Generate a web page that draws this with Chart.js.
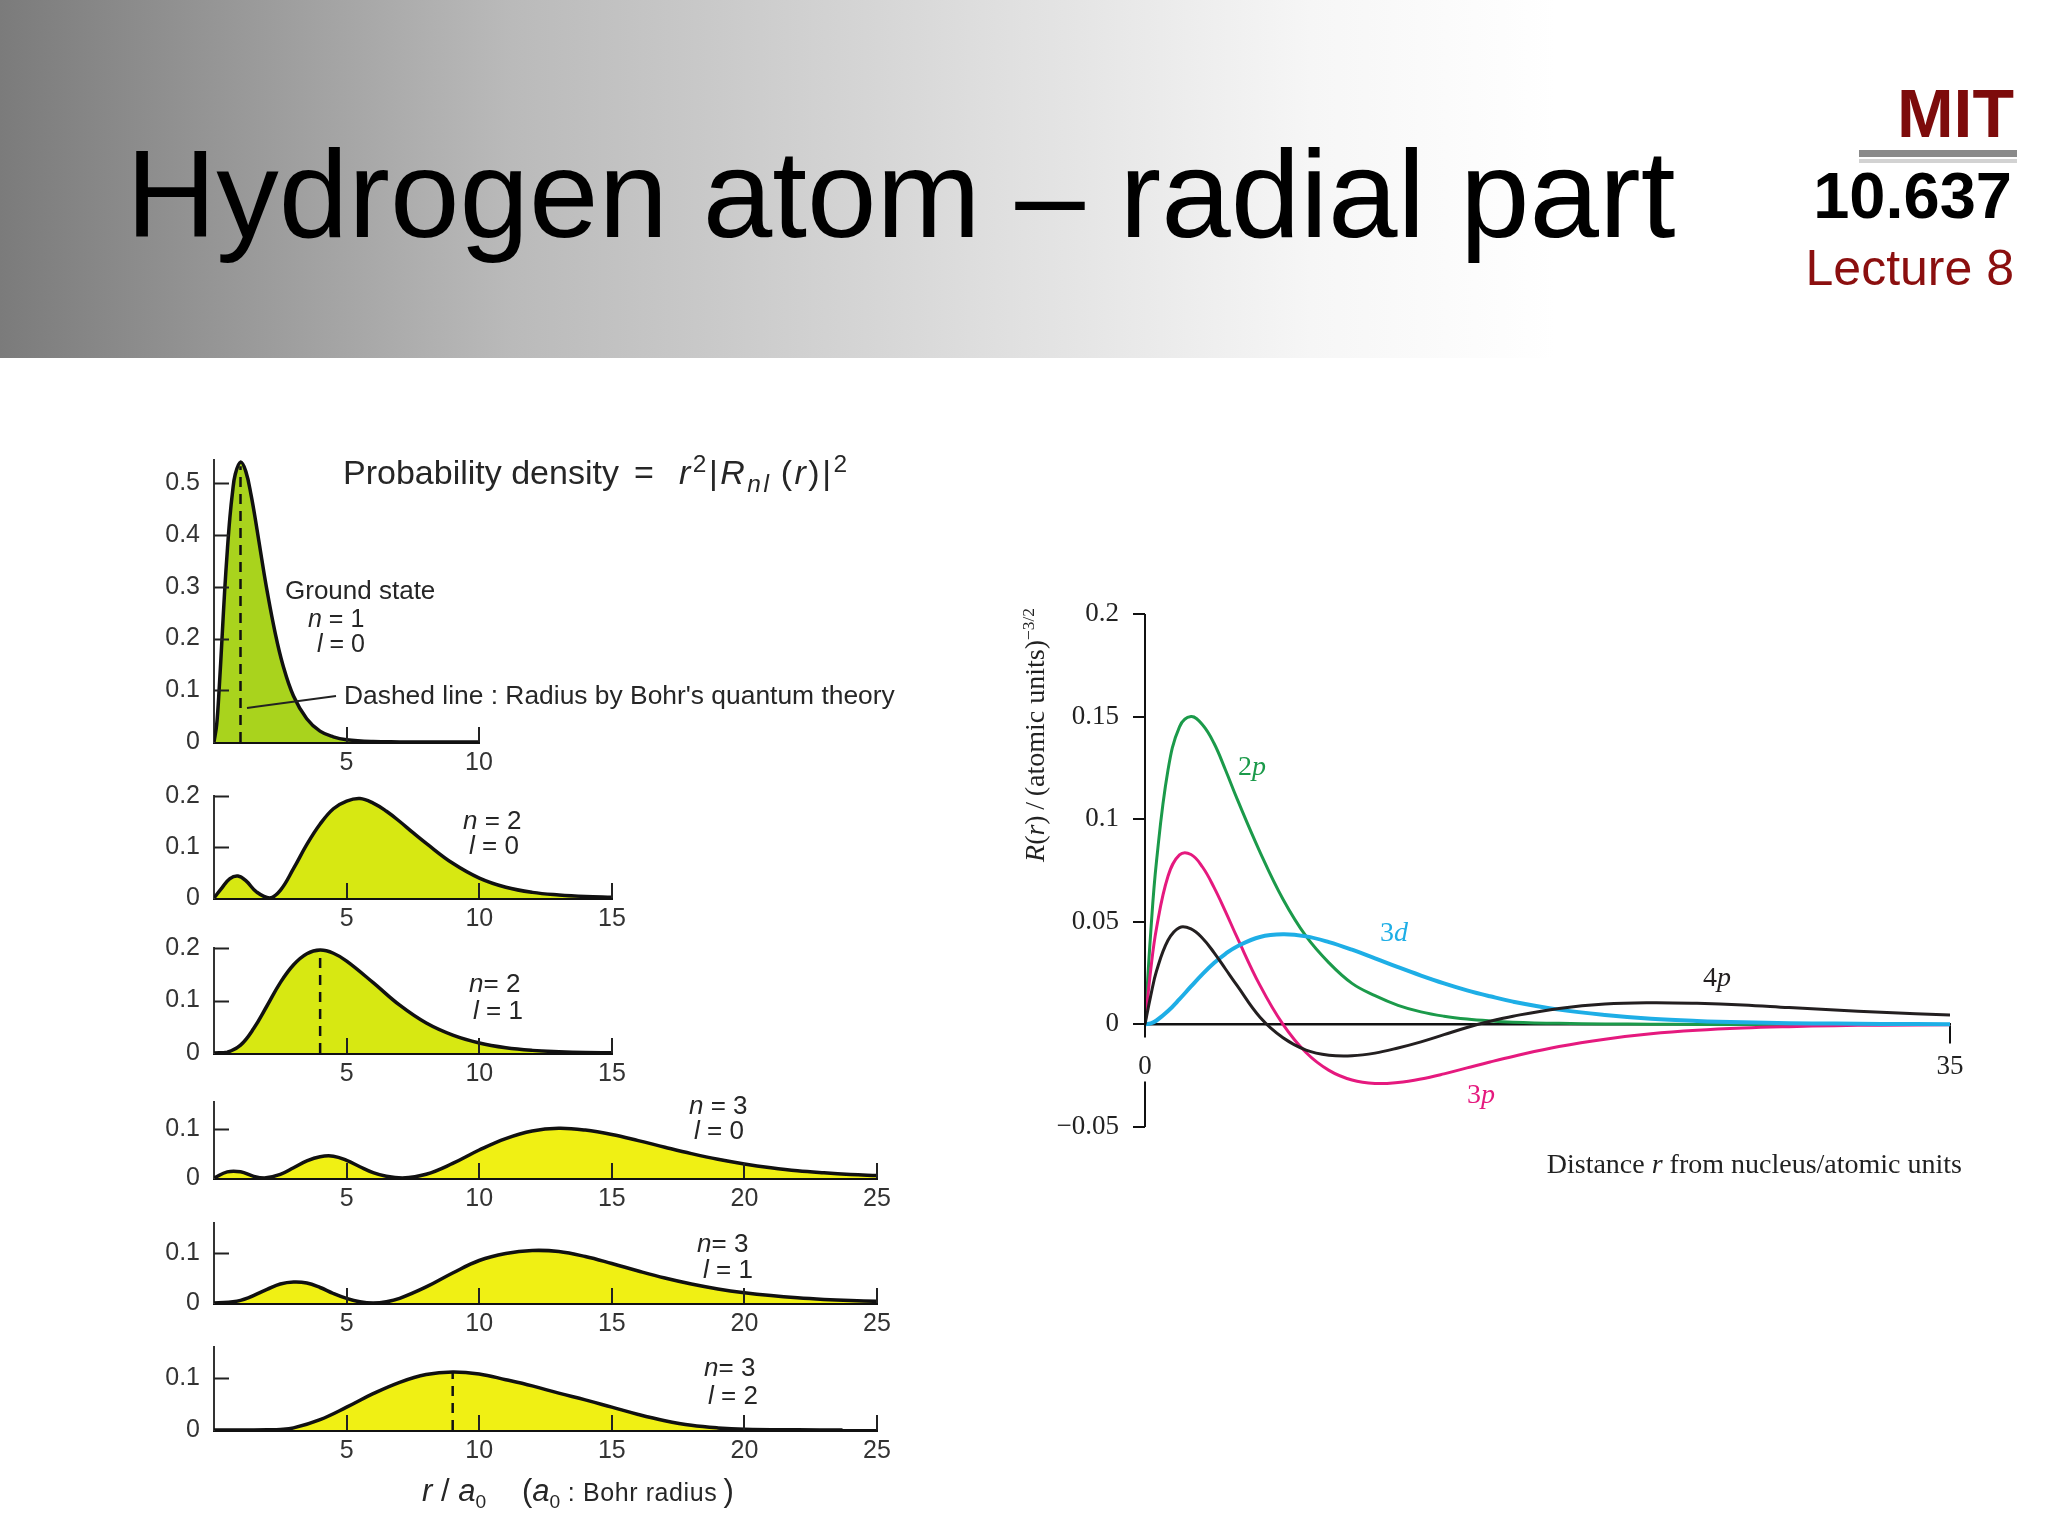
<!DOCTYPE html>
<html>
<head>
<meta charset="utf-8">
<title>Hydrogen atom – radial part</title>
<script src="https://cdn.jsdelivr.net/npm/chart.js@4.4.1/dist/chart.umd.min.js"></script>
<style>
  html, body { margin: 0; padding: 0; background: #fff; }
  #page { position: relative; width: 2048px; height: 1536px; overflow: hidden; font-family: "Liberation Sans", Arial, sans-serif; }
  #header { position: absolute; left: 0; top: 0; width: 2048px; height: 358px;
    background: linear-gradient(to right, #7b7b7b 0%, #bababa 25%, #dedede 48%, #f6f6f6 64%, #ffffff 76%); }
  .t { position: absolute; white-space: nowrap; line-height: 1; }
  .lbl { color: #262626; font-size: 26px; }
  .serif { font-family: "Liberation Serif", "Times New Roman", serif; }
  sup, sub { font-size: 0.62em; line-height: 0; }
  canvas { position: absolute; }
</style>
</head>
<body>
<div id="page">
  <div id="header"></div>
  <div class="t" style="left:126px;top:131px;font-size:125px;color:#000;">Hydrogen atom – radial part</div>
  <div class="t" style="right:34px;top:79px;font-size:68px;font-weight:bold;color:#7d0b0b;">MIT</div>
  <div style="position:absolute;left:1859px;top:150px;width:158px;height:7px;background:#8a8a8a;"></div>
  <div style="position:absolute;left:1859px;top:159px;width:158px;height:4px;background:#d2d2d2;"></div>
  <div class="t" style="right:36px;top:163px;font-size:65px;font-weight:bold;color:#000;">10.637</div>
  <div class="t" style="right:34px;top:243px;font-size:50px;color:#8b0f0f;">Lecture 8</div>

  <canvas id="p1"></canvas>
  <canvas id="p2"></canvas>
  <canvas id="p3"></canvas>
  <canvas id="p4"></canvas>
  <canvas id="p5"></canvas>
  <canvas id="p6"></canvas>
  <canvas id="radial"></canvas>

  <!-- left panel annotations -->
  <div class="t lbl" style="left:343px;top:455px;font-size:34px;">Probability density</div>
  <div class="t lbl" style="left:634px;top:455px;font-size:34px;">=</div>
  <div class="t lbl" style="left:679px;top:455px;font-size:34px;letter-spacing:2.5px;"><i>r</i><sup style="font-size:0.72em;">2</sup>|<i>R</i><sub style="font-size:0.72em;"><i>nl</i></sub>&thinsp;(<i>r</i>)|<sup style="font-size:0.72em;">2</sup></div>
  <div class="t lbl" style="left:285px;top:577px;font-size:26px;">Ground state</div>
  <div class="t lbl" style="left:308px;top:606px;font-size:25px;"><i>n</i> = 1</div>
  <div class="t lbl" style="left:317px;top:631px;font-size:25px;"><i>l</i> = 0</div>
  <div class="t lbl" style="left:344px;top:682px;font-size:26.4px;">Dashed line : Radius by Bohr's quantum theory</div>
  <svg style="position:absolute;left:0;top:0;" width="2048" height="1536">
    <line x1="336" y1="696" x2="247" y2="708" stroke="#222" stroke-width="2"/>
  </svg>
  <div class="t lbl" style="left:463px;top:807px;"><i>n</i> = 2</div>
  <div class="t lbl" style="left:469px;top:832px;"><i>l</i> = 0</div>
  <div class="t lbl" style="left:469px;top:970px;"><i>n</i>= 2</div>
  <div class="t lbl" style="left:473px;top:997px;"><i>l</i> = 1</div>
  <div class="t lbl" style="left:689px;top:1092px;"><i>n</i> = 3</div>
  <div class="t lbl" style="left:694px;top:1117px;"><i>l</i> = 0</div>
  <div class="t lbl" style="left:697px;top:1230px;"><i>n</i>= 3</div>
  <div class="t lbl" style="left:703px;top:1256px;"><i>l</i> = 1</div>
  <div class="t lbl" style="left:704px;top:1354px;"><i>n</i>= 3</div>
  <div class="t lbl" style="left:708px;top:1382px;"><i>l</i> = 2</div>
  <div class="t lbl" style="left:422px;top:1475px;font-size:31px;"><i>r</i> / <i>a</i><sub>0</sub></div>
  <div class="t lbl" style="left:522px;top:1475px;font-size:31px;">(<i>a</i><sub>0</sub><span style="font-size:25px;letter-spacing:0.6px;"> : Bohr radius</span>&thinsp;)</div>

  <!-- right panel annotations -->
  <div class="t serif" style="left:1035px;top:735px;font-size:28px;color:#222;transform:translate(-50%,-50%) rotate(-90deg);"><i>R</i>(<i>r</i>)&thinsp;/&thinsp;(atomic units)<sup>−3/2</sup></div>
  <div class="t serif" style="right:86px;top:1150px;font-size:28px;color:#222;">Distance <i>r</i> from nucleus/atomic units</div>
  <div class="t serif" style="left:1238px;top:752px;font-size:28px;color:#1b9a4a;">2<i>p</i></div>
  <div class="t serif" style="left:1380px;top:918px;font-size:28px;color:#1eaee6;">3<i>d</i></div>
  <div class="t serif" style="left:1703px;top:963px;font-size:28px;color:#231f20;">4<i>p</i></div>
  <div class="t serif" style="left:1467px;top:1080px;font-size:28px;color:#e5197e;">3<i>p</i></div>
</div>

<script>
// radial probability densities r^2|R|^2 (r in Bohr radii)
const rS1 = [0, 0.1, 0.2, 0.3, 0.4, 0.5, 0.6, 0.7, 0.8, 1.0, 1.2, 1.4, 1.6, 1.8, 2.0, 2.3, 2.6, 3.0, 3.5, 4.0, 4.5, 5, 6, 7, 8, 10];
const pS1 = [0, 0.033, 0.107, 0.198, 0.29, 0.368, 0.434, 0.483, 0.517, 0.541, 0.523, 0.477, 0.418, 0.354, 0.293, 0.213, 0.149, 0.089, 0.045, 0.021, 0.010, 0.0045, 0.0009, 0.0002, 0, 0];

const rS2 = [0, 0.3, 0.6, 0.9, 1.2, 1.6, 2.1, 2.5, 3, 3.5, 4, 4.5, 5, 5.5, 6, 6.5, 7, 7.5, 8, 9, 10, 11, 12, 13, 14, 15];
const pS2 = [0, 0.02, 0.038, 0.043, 0.034, 0.012, 0, 0.015, 0.058, 0.105, 0.145, 0.175, 0.19, 0.195, 0.186, 0.17, 0.15, 0.128, 0.107, 0.068, 0.039, 0.021, 0.011, 0.006, 0.003, 0.0015];

const rS3 = [0, 0.5, 1, 1.5, 2, 2.5, 3, 3.5, 4, 4.5, 5, 6, 7, 8, 9, 10, 11, 12, 13, 14, 15];
const pS3 = [0, 0.0016, 0.015, 0.047, 0.09, 0.134, 0.168, 0.189, 0.196, 0.19, 0.175, 0.134, 0.091, 0.057, 0.034, 0.019, 0.01, 0.005, 0.0025, 0.001, 0.0005];

const rS4 = [0, 0.5, 1, 1.5, 1.9, 2.5, 3, 3.5, 4, 4.5, 5, 5.5, 6, 6.5, 7.1, 8, 9, 10, 11, 12, 13, 14, 15, 16, 17, 18, 19, 20, 21, 22, 23, 24, 25];
const pS4 = [0, 0.0125, 0.0126, 0.0034, 0, 0.0075, 0.021, 0.035, 0.0435, 0.0445, 0.036, 0.023, 0.011, 0.0035, 0, 0.0076, 0.0297, 0.0571, 0.0805, 0.096, 0.1013, 0.0978, 0.0889, 0.0763, 0.0628, 0.0498, 0.0382, 0.0287, 0.021, 0.0148, 0.0106, 0.0073, 0.005];

const rS5 = [0, 1, 2, 2.5, 3, 3.5, 4, 4.5, 5, 5.5, 6, 6.5, 7, 8, 9, 10, 11, 12, 13, 14, 15, 16, 17, 18, 19, 20, 21, 22, 23, 24, 25];
const pS5 = [0, 0.0052, 0.0274, 0.038, 0.042, 0.04, 0.031, 0.019, 0.0091, 0.0024, 0, 0.0024, 0.0092, 0.0321, 0.06, 0.085, 0.099, 0.105, 0.103, 0.093, 0.079, 0.064, 0.05, 0.038, 0.0282, 0.0206, 0.0148, 0.0104, 0.0072, 0.0049, 0.0033];

const rS6 = [0, 1, 2, 2.5, 3, 4, 5, 6, 7, 8, 9, 10, 11, 12, 13, 14, 15, 16, 17, 18, 19, 20, 22, 23.7];
const pS6 = [0, 0, 0.0005, 0.001, 0.004, 0.02, 0.044, 0.07, 0.092, 0.107, 0.112, 0.108, 0.097, 0.085, 0.071, 0.058, 0.044, 0.03, 0.018, 0.009, 0.004, 0.0015, 0.0004, 0];

// Bohr radius dashed lines (plots 1, 3, 6)
const bohrR = [1, 4, 9];
const bohrTop = [0.533, 0.195, 0.112];

// radial functions R(r), right-hand plot
const rR = [0, 0.25, 0.5, 1, 1.5, 2, 2.5, 3, 3.5, 4, 5, 6, 7, 8, 9, 10, 11, 12, 13, 14, 15, 16, 18, 20, 22, 24, 26, 28, 30, 32, 35];
const R2p = [0, 0.045, 0.0795, 0.124, 0.145, 0.150, 0.146, 0.137, 0.124, 0.110, 0.084, 0.061, 0.043, 0.030, 0.020, 0.014, 0.0093, 0.0061, 0.0040, 0.0026, 0.0017, 0.0011, 0.0005, 0.0002, 0.0001, 0, 0, 0, 0, 0, 0];
const R3p = [0, 0.0267, 0.0469, 0.0722, 0.0826, 0.0828, 0.0767, 0.0668, 0.0550, 0.0425, 0.0190, 0, -0.0137, -0.0224, -0.0271, -0.0288, -0.0283, -0.0266, -0.0241, -0.0212, -0.0183, -0.0156, -0.0108, -0.0072, -0.0046, -0.0029, -0.0018, -0.0011, -0.0006, -0.0004, -0.0002];
const R3d = [0, 0.0005, 0.0019, 0.0065, 0.0123, 0.0185, 0.0245, 0.0299, 0.0344, 0.0380, 0.0426, 0.0439, 0.0429, 0.0401, 0.0364, 0.0322, 0.0279, 0.0238, 0.0200, 0.0166, 0.0137, 0.0111, 0.0072, 0.0046, 0.0028, 0.0017, 0.0010, 0.0006, 0.0004, 0.0002, 0.0001];
const R4p = [0, 0.014, 0.026, 0.041, 0.0472, 0.0465, 0.042, 0.035, 0.027, 0.019, 0.0035, -0.0065, -0.0125, -0.015, -0.0153, -0.014, -0.0115, -0.0085, -0.005, -0.0015, 0.0015, 0.004, 0.0078, 0.0100, 0.0106, 0.0103, 0.0095, 0.0082, 0.0070, 0.0059, 0.0046];
const xTicksRight = [0, 35];

const pts = (xs, ys) => xs.map((x, i) => ({ x: x, y: ys[i] }));
const fmt = v => String(+v.toFixed(2));

Chart.defaults.font.family = '"Liberation Sans", Arial, sans-serif';

// --- small probability-density plots ---
const X0 = 214, PX_R = 26.5;          // pixel of r = 0, pixels per Bohr radius
const YW = 60, PADR = 26, PADT = 16, XH = 42;

const smallSpecs = [
  { id: 'p1', r: rS1, p: pS1, xMax: 10, yMax: 0.545, zeroY: 742, pxU: 518, fill: '#a9d31d', bohr: 0 },
  { id: 'p2', r: rS2, p: pS2, xMax: 15, yMax: 0.2, zeroY: 898, pxU: 510, fill: '#d7e812', bohr: null },
  { id: 'p3', r: rS3, p: pS3, xMax: 15, yMax: 0.2, zeroY: 1053, pxU: 525, fill: '#d7e812', bohr: 1 },
  { id: 'p4', r: rS4, p: pS4, xMax: 25, yMax: 0.155, zeroY: 1178, pxU: 490, fill: '#f0f014', bohr: null },
  { id: 'p5', r: rS5, p: pS5, xMax: 25, yMax: 0.16, zeroY: 1303, pxU: 500, fill: '#f0f014', bohr: null },
  { id: 'p6', r: rS6, p: pS6, xMax: 25, yMax: 0.16, zeroY: 1430, pxU: 520, fill: '#f0f014', bohr: 2 }
];

const inwardTicks = {
  id: 'inwardTicks',
  afterDraw(chart) {
    const { ctx, chartArea, scales } = chart;
    ctx.save();
    ctx.strokeStyle = '#222';
    ctx.lineWidth = 2;
    ctx.beginPath();
    scales.y.ticks.forEach(t => {
      if (t.value === 0) return;
      const y = Math.round(scales.y.getPixelForValue(t.value)) + 0.5;
      ctx.moveTo(chartArea.left, y);
      ctx.lineTo(chartArea.left + 15, y);
    });
    scales.x.ticks.forEach(t => {
      if (t.value === 0) return;
      const x = Math.round(scales.x.getPixelForValue(t.value));
      ctx.moveTo(x, chartArea.bottom);
      ctx.lineTo(x, chartArea.bottom - 15);
    });
    ctx.stroke();
    ctx.restore();
  }
};

function makeSmall(spec) {
  const cv = document.getElementById(spec.id);
  const plotW = spec.xMax * PX_R, plotH = spec.yMax * spec.pxU;
  cv.width = Math.round(YW + plotW + PADR);
  cv.height = Math.round(PADT + plotH + XH);
  cv.style.width = cv.width + 'px';
  cv.style.height = cv.height + 'px';
  cv.style.left = (X0 - YW) + 'px';
  cv.style.top = Math.round(spec.zeroY - plotH - PADT) + 'px';

  const datasets = [];
  if (spec.bohr !== null) {
    datasets.push({
      data: [{ x: bohrR[spec.bohr], y: 0 }, { x: bohrR[spec.bohr], y: bohrTop[spec.bohr] }],
      borderColor: '#111', borderWidth: 2.5, borderDash: [10, 7], pointRadius: 0, fill: false
    });
  }
  datasets.push({
    data: pts(spec.r, spec.p),
    borderColor: '#111', borderWidth: 3.5, backgroundColor: spec.fill,
    fill: 'origin', pointRadius: 0, tension: 0.4
  });

  const tickFont = { size: 25 };
  new Chart(cv.getContext('2d'), {
    type: 'line',
    data: { datasets: datasets },
    options: {
      responsive: false, animation: false, events: [],
      layout: { padding: { left: 0, right: PADR, top: PADT, bottom: 0 } },
      plugins: { legend: { display: false }, tooltip: { enabled: false } },
      scales: {
        x: {
          type: 'linear', min: 0, max: spec.xMax, z: 1,
          afterFit(s) { s.height = XH; s.paddingLeft = 0; s.paddingRight = 0; },
          grid: { display: false, drawTicks: false },
          border: { display: true, color: '#111', width: 3 },
          ticks: { stepSize: 5, padding: 6, color: '#333', font: tickFont, maxRotation: 0, autoSkip: false,
                   callback: v => (v === 0 ? '' : String(v)) }
        },
        y: {
          type: 'linear', min: 0, max: spec.yMax, z: 1,
          afterFit(s) { s.width = YW; s.paddingTop = 0; s.paddingBottom = 0; },
          grid: { display: false, drawTicks: false },
          border: { display: true, color: '#333', width: 2 },
          ticks: { stepSize: 0.1, includeBounds: false, padding: 14, color: '#333', font: tickFont, autoSkip: false,
                   callback: v => fmt(v) }
        }
      }
    },
    plugins: [inwardTicks]
  });
}

smallSpecs.forEach(makeSmall);

// --- right-hand plot of R(r) ---
const RX0 = 1145, RX35 = 1950, RY_TOP = 614, RY_BOT = 1127;
const RYW = 100, RPADR = 40, RPADT = 24, RPADB = 24;

const rightAxisLine = {
  id: 'rightAxisLine',
  afterDraw(chart) {
    const { ctx, chartArea, scales } = chart;
    const x = Math.round(chartArea.left);
    const z = scales.y.getPixelForValue(0);
    ctx.save();
    ctx.strokeStyle = '#111';
    ctx.lineWidth = 2;
    ctx.beginPath();
    ctx.moveTo(x, scales.y.getPixelForValue(0.2));
    ctx.lineTo(x, z + 13);
    ctx.moveTo(x, z + 57);
    ctx.lineTo(x, scales.y.getPixelForValue(-0.05));
    ctx.stroke();
    ctx.restore();
  }
};

(function makeRight() {
  const cv = document.getElementById('radial');
  cv.width = RYW + (RX35 - RX0) + RPADR;
  cv.height = RPADT + (RY_BOT - RY_TOP) + RPADB;
  cv.style.width = cv.width + 'px';
  cv.style.height = cv.height + 'px';
  cv.style.left = (RX0 - RYW) + 'px';
  cv.style.top = (RY_TOP - RPADT) + 'px';

  const serif = { family: '"Liberation Serif", "Times New Roman", serif', size: 27 };
  const line = (data, color, width) => ({
    data: pts(rR, data), borderColor: color, borderWidth: width,
    pointRadius: 0, fill: false, tension: 0.4
  });

  new Chart(cv.getContext('2d'), {
    type: 'line',
    data: {
      datasets: [
        line(R4p, '#231f20', 3),
        line(R3d, '#1eaee6', 4),
        line(R3p, '#e5197e', 3),
        line(R2p, '#1b9a4a', 3)
      ]
    },
    options: {
      responsive: false, animation: false, events: [],
      layout: { padding: { left: 0, right: RPADR, top: RPADT, bottom: RPADB } },
      plugins: { legend: { display: false }, tooltip: { enabled: false } },
      scales: {
        x: {
          type: 'linear', min: 0, max: 35, position: { y: 0 },
          afterBuildTicks(s) { s.ticks = xTicksRight.map(v => ({ value: v })); },
          afterFit(s) { s.paddingLeft = 0; s.paddingRight = 0; },
          grid: { display: true, drawOnChartArea: false, drawTicks: true, tickLength: 18, lineWidth: 2,
                  color: c => (c.tick && c.tick.value === 0 ? 'rgba(0,0,0,0)' : '#111') },
          border: { display: true, color: '#111', width: 2.5 },
          ticks: { padding: 8, color: '#222', font: serif, maxRotation: 0, autoSkip: false, callback: v => String(v) }
        },
        y: {
          type: 'linear', min: -0.05, max: 0.2,
          afterFit(s) { s.width = RYW; s.paddingTop = 0; s.paddingBottom = 0; },
          grid: { display: true, drawOnChartArea: false, drawTicks: true, tickLength: 12, lineWidth: 2, color: '#111' },
          border: { display: false },
          ticks: { stepSize: 0.05, padding: 14, color: '#222', font: serif, autoSkip: false,
                   callback: v => (v < 0 ? '−' + fmt(-v) : fmt(v)) }
        }
      }
    },
    plugins: [rightAxisLine]
  });
})();
</script>
</body>
</html>
